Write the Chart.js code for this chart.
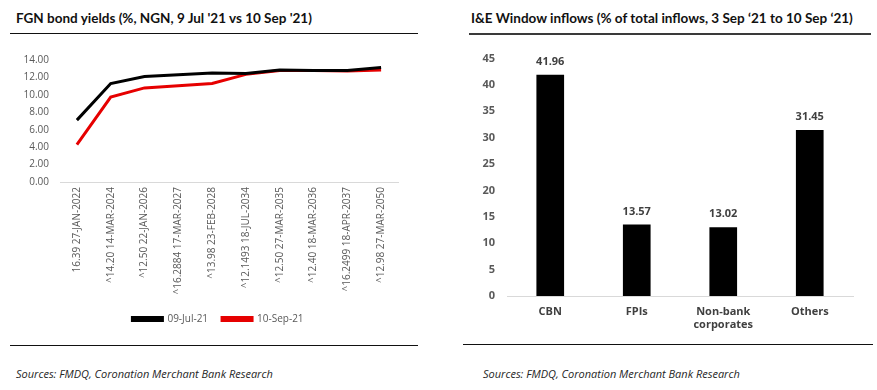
<!DOCTYPE html>
<html>
<head>
<meta charset="utf-8">
<script src="https://cdn.jsdelivr.net/npm/chart.js@4.4.0/dist/chart.umd.min.js"></script>
<style>
    body { margin: 0; background: #fff; width: 877px; height: 390px; position: relative; overflow: hidden; font-family: "Open Sans", sans-serif; }
    .title { position: absolute; top: 10px; font: bold 13.5px Lato, sans-serif; color: #111; white-space: nowrap; }
    .rule { position: absolute; height: 1px; background: #111; }
    .src { position: absolute; top: 366px; font: italic 11px "Open Sans", sans-serif; color: #262626; white-space: nowrap; }
    canvas { position: absolute; }
</style>
</head>
<body>
<div class="title" style="left:16px">FGN bond yields (%, NGN, 9 Jul '21 vs 10 Sep '21)</div>
<div class="rule" style="left:10px; top:33px; width:408px"></div>
<div class="title" style="left:471px">I&amp;E Window inflows (% of total inflows, 3 Sep ‘21 to 10 Sep ‘21)</div>
<div class="rule" style="left:469px; top:33px; width:402px; height:2px; background:#3a3a3a"></div>

<canvas id="yields" width="440" height="300" style="left:0; top:40px"></canvas>
<canvas id="inflows" width="437" height="300" style="left:440px; top:40px"></canvas>

<div class="rule" style="left:10px; top:345px; width:408px"></div>
<div class="rule" style="left:463px; top:344px; width:410px"></div>
<div class="src" style="left:16px">Sources: FMDQ, Coronation Merchant Bank Research</div>
<div class="src" style="left:483px">Sources: FMDQ, Coronation Merchant Bank Research</div>

<script>
// left chart data
const bonds = ["16.39 27-JAN-2022", "^14.20 14-MAR-2024", "^12.50 22-JAN-2026", "^16.2884 17-MAR-2027",
    "^13.98 23-FEB-2028", "^12.1493 18-JUL-2034", "^12.50 27-MAR-2035", "^12.40 18-MAR-2036",
    "^16.2499 18-APR-2037", "^12.98 27-MAR-2050"];
const yieldsJul = [7.1, 11.3, 12.1, 12.3, 12.5, 12.45, 12.85, 12.8, 12.8, 13.15];
const yieldsSep = [4.3, 9.75, 10.8, 11.05, 11.3, 12.35, 12.8, 12.8, 12.75, 12.85];

// right chart data
const investors = ["CBN", "FPIs", ["Non-bank", "corporates"], "Others"];
const inflowShares = [41.96, 13.57, 13.02, 31.45];

const grey = '#595959';

// legend sits a bit right of the canvas centre in the original
const legendShift = {
    id: 'legendShift',
    afterLayout(chart) {
        chart.legend.left += 19;
        chart.legend.right += 19;
    }
};

new Chart(document.getElementById('yields').getContext('2d'), {
    type: 'line',
    data: {
        labels: bonds,
        datasets: [{
            label: '09-Jul-21',
            data: yieldsJul,
            borderColor: '#000000',
            backgroundColor: '#000000',
            borderWidth: 3,
            pointRadius: 0,
            tension: 0
        }, {
            label: '10-Sep-21',
            data: yieldsSep,
            borderColor: '#e60000',
            backgroundColor: '#e60000',
            borderWidth: 3,
            pointRadius: 0,
            tension: 0
        }]
    },
    options: {
        responsive: false,
        animation: false,
        layout: { padding: { left: 0, right: 42, top: 20, bottom: 6 } },
        plugins: {
            tooltip: { enabled: false },
            legend: {
                position: 'bottom',
                labels: {
                    boxWidth: 30,
                    boxHeight: 3,
                    padding: 14,
                    color: grey,
                    font: { family: 'Open Sans', size: 10 }
                }
            }
        },
        scales: {
            x: {
                offset: true,
                grid: { display: false, drawTicks: false },
                border: { color: '#d9d9d9' },
                ticks: { minRotation: 90, maxRotation: 90, padding: 5, color: grey, font: { family: 'Open Sans', size: 10 } },
                afterFit: s => { s.height = 118; }
            },
            y: {
                min: 0,
                max: 14,
                grid: { display: false, drawTicks: false },
                border: { display: false },
                ticks: { stepSize: 2, padding: 11, color: grey, font: { family: 'Open Sans', size: 10 },
                    callback: v => v.toFixed(2) },
                afterFit: s => { s.width = 60; }
            }
        }
    },
    plugins: [legendShift]
});

const valueLabels = {
    id: 'valueLabels',
    afterDatasetsDraw(chart) {
        const ctx = chart.ctx;
        const meta = chart.getDatasetMeta(0);
        ctx.save();
        ctx.font = 'bold 11px "Open Sans"';
        ctx.fillStyle = '#404040';
        ctx.textAlign = 'center';
        ctx.textBaseline = 'middle';
        meta.data.forEach((bar, i) => {
            ctx.fillText(inflowShares[i].toFixed(2), bar.x, bar.y - 13);
        });
        ctx.restore();
    }
};

new Chart(document.getElementById('inflows').getContext('2d'), {
    type: 'bar',
    data: {
        labels: investors,
        datasets: [{
            data: inflowShares,
            backgroundColor: '#000000',
            categoryPercentage: 1,
            barPercentage: 0.32
        }]
    },
    options: {
        responsive: false,
        animation: false,
        layout: { padding: { left: 0, right: 24, top: 18, bottom: 0 } },
        plugins: { legend: { display: false }, tooltip: { enabled: false } },
        scales: {
            x: {
                grid: { display: false, drawTicks: false },
                border: { color: '#d9d9d9' },
                ticks: { padding: 9, color: '#404040', font: { family: 'Open Sans', size: 11, weight: 'bold' } },
                afterFit: s => { s.height = 44; }
            },
            y: {
                min: 0,
                max: 45,
                grid: { display: false, drawTicks: false },
                border: { display: false },
                ticks: { stepSize: 5, padding: 12, color: grey, font: { family: 'Open Sans', size: 11, weight: 'bold' } },
                afterFit: s => { s.width = 67; }
            }
        }
    },
    plugins: [valueLabels]
});
</script>
</body>
</html>
